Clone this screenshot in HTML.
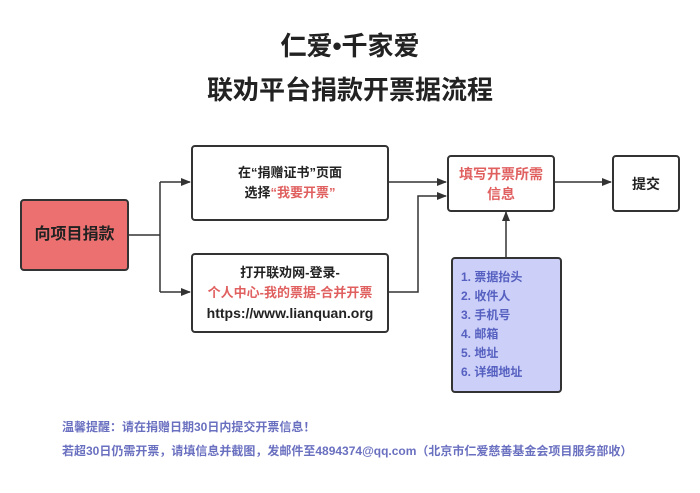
<!DOCTYPE html>
<html><head><meta charset="utf-8"><style>
body{margin:0;width:700px;height:493px;background:#fff;position:relative;overflow:hidden;font-family:"Liberation Sans","Noto Sans CJK SC",sans-serif;font-weight:bold;color:#222}
.t{position:absolute;left:0;width:700px;text-align:center;font-size:26px;color:#222}
.b{position:absolute;box-sizing:border-box;border:2px solid #333;border-radius:4px;background:#fff;display:flex;flex-direction:column;justify-content:center;align-items:center;text-align:center;font-size:13px;line-height:20px}
.r{color:#e06060}
.f{position:absolute;left:62px;font-size:12px;color:#6a70c0;font-weight:bold}
</style></head><body>
<div class="t" style="top:26px">仁爱•千家爱</div>
<div class="t" style="top:70px">联劝平台捐款开票据流程</div>
<svg width="700" height="493" style="position:absolute;left:0;top:0">
<defs><marker id="a" markerWidth="10" markerHeight="8" refX="9" refY="4" orient="auto" markerUnits="userSpaceOnUse"><path d="M0,0L10,4L0,8z" fill="#333"/></marker></defs>
<g stroke="#333" stroke-width="1.5" fill="none">
<path d="M128,235H160"/>
<path d="M160,182V292"/>
<path d="M160,182H190" marker-end="url(#a)"/>
<path d="M160,292H190" marker-end="url(#a)"/>
<path d="M388,182H446" marker-end="url(#a)"/>
<path d="M388,292H418V196H446" marker-end="url(#a)"/>
<path d="M554,182H611" marker-end="url(#a)"/>
<path d="M506,257V212" marker-end="url(#a)"/>
</g></svg>
<div class="b" style="left:20px;top:199px;width:109px;height:72px;background:#ec7070;font-size:16px">向项目捐款</div>
<div class="b" style="left:191px;top:145px;width:198px;height:76px">在“捐赠证书”页面<br><span>选择<span class="r">“我要开票”</span></span></div>
<div class="b" style="left:191px;top:253px;width:198px;height:80px">打开联劝网-登录-<br><span class="r">个人中心-我的票据-合并开票</span><span style="font-size:14px">https://www.lianquan.org</span></div>
<div class="b r" style="left:447px;top:155px;width:108px;height:57px;font-size:14px;color:#e06060">填写开票所需<br>信息</div>
<div class="b" style="left:612px;top:155px;width:68px;height:57px;font-size:14px">提交</div>
<div class="b" style="left:451px;top:257px;width:111px;height:136px;background:#ccd0f8;align-items:flex-start;padding-left:8px;text-align:left;color:#5560c0;font-size:12px;line-height:19px">1. 票据抬头<br>2. 收件人<br>3. 手机号<br>4. 邮箱<br>5. 地址<br>6. 详细地址</div>
<div class="f" style="top:418px">温馨提醒：请在捐赠日期30日内提交开票信息！</div>
<div class="f" style="top:442px">若超30日仍需开票，请填信息并截图，发邮件至4894374@qq.com（北京市仁爱慈善基金会项目服务部收）</div>
</body></html>
